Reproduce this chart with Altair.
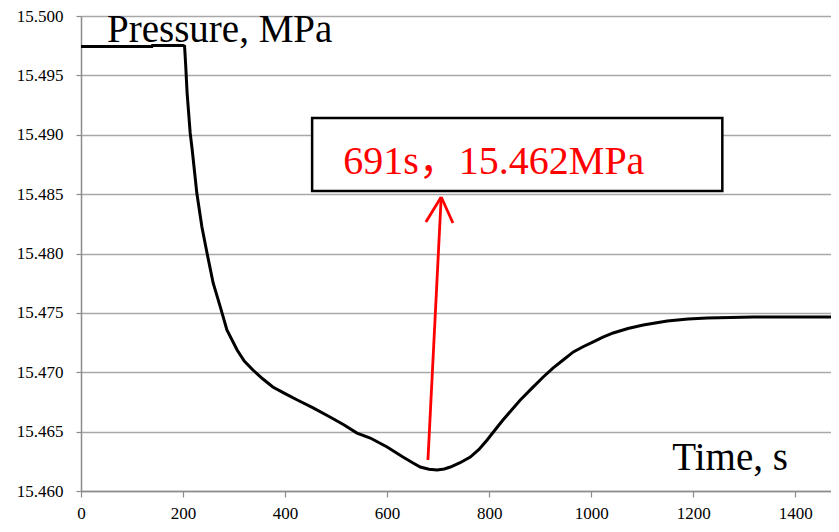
import altair as alt
import pandas as pd

# Pressure curve (time in s, pressure in MPa)
time_s = [0, 139, 140, 200, 203, 205, 208, 214, 218, 227, 237, 247, 259, 273, 286,
          306, 320, 337, 356, 376, 400, 424, 455, 488, 515, 541, 567, 600, 631, 650,
          665, 682, 698, 712, 724, 743, 763, 780, 796, 811, 827, 844, 861, 884, 906,
          925, 945, 965, 984, 1004, 1023, 1043, 1072, 1102, 1149, 1190, 1227, 1318,
          1484]
pressure = [15.49744, 15.49744, 15.49752, 15.49752, 15.49745, 15.49600, 15.49350,
            15.49015, 15.48872, 15.48509, 15.48223, 15.48004, 15.47752, 15.47550,
            15.47356, 15.47187, 15.47095, 15.47019, 15.46945, 15.46876, 15.46820,
            15.46766, 15.46700, 15.46623, 15.46558, 15.46488, 15.46446, 15.46371,
            15.46286, 15.46238, 15.46202, 15.46183, 15.46177, 15.46185, 15.46202,
            15.46238, 15.46286, 15.46350, 15.46430, 15.46512, 15.46598, 15.46682,
            15.46766, 15.46866, 15.46960, 15.47035, 15.47103, 15.47171, 15.47215,
            15.47255, 15.47295, 15.47331, 15.47368, 15.47398, 15.47432, 15.47448,
            15.47457, 15.47465, 15.47465]

x_ticks = [0, 200, 400, 600, 800, 1000, 1200, 1400]
y_ticks = [15.460, 15.465, 15.470, 15.475, 15.480, 15.485, 15.490, 15.495, 15.500]
x_domain = [0, 1470]
y_domain = [15.460, 15.500]

# annotation box and arrow (data units)
box_x = [453]
box_x2 = [1257]
box_y = [15.49141]
box_y2 = [15.48526]
arrow_x = [680, 706, 706]
arrow_y = [15.46261, 15.48476, 15.48476]
arrow_x2 = [706, 676, 729]
arrow_y2 = [15.48476, 15.48265, 15.48257]

label_texts = ["Pressure, MPa", "Time, s"]
label_x = [51, 1159]
label_y = [15.49781, 15.46177]
annot_text = ["691s，15.462MPa"]
annot_x = [514]
annot_y = [15.48669]

FONT = "'Liberation Serif', 'Times New Roman', 'Noto Sans CJK SC', serif"

df = pd.DataFrame({"t": time_s, "p": pressure})
box_df = pd.DataFrame({"x": box_x, "x2": box_x2, "y": box_y, "y2": box_y2})
arrow_df = pd.DataFrame({"x": arrow_x, "y": arrow_y, "x2": arrow_x2, "y2": arrow_y2})
lab_df = pd.DataFrame({"text": label_texts, "x": label_x, "y": label_y})
ann_df = pd.DataFrame({"text": annot_text, "x": annot_x, "y": annot_y})

xs = alt.Scale(domain=x_domain, nice=False, zero=False)
ys = alt.Scale(domain=y_domain, nice=False, zero=False)

x_axis = alt.Axis(values=x_ticks, title=None, grid=False, format="d",
                  labelFont=FONT, labelFontSize=17, labelColor="#000000",
                  tickColor="#8c8c8c", domainColor="#8c8c8c", domainWidth=1.5,
                  tickWidth=1.2, tickSize=6, labelPadding=8, labelFlush=False)
y_axis = alt.Axis(values=y_ticks, title=None, format=".3f", grid=True,
                  gridColor="#a8a8a8", gridWidth=1.4, labelFont=FONT,
                  labelFontSize=17, labelColor="#000000", tickColor="#8c8c8c",
                  domainColor="#8c8c8c", domainWidth=1.5, tickWidth=1.2, tickSize=5,
                  labelPadding=13)

line = alt.Chart(df).mark_line(color="#000000", strokeWidth=3).encode(
    x=alt.X("t:Q", scale=xs, axis=x_axis),
    y=alt.Y("p:Q", scale=ys, axis=y_axis),
)

box = alt.Chart(box_df).mark_rect(fill="#ffffff", stroke="#000000", strokeWidth=2.5).encode(
    x=alt.X("x:Q", scale=xs), x2="x2:Q",
    y=alt.Y("y:Q", scale=ys), y2="y2:Q",
)

arrow = alt.Chart(arrow_df).mark_rule(color="#ff0000", strokeWidth=2.8).encode(
    x=alt.X("x:Q", scale=xs), x2="x2:Q",
    y=alt.Y("y:Q", scale=ys), y2="y2:Q",
)

labels = alt.Chart(lab_df).mark_text(align="left", baseline="alphabetic", font=FONT,
                                     fontSize=39, color="#000000").encode(
    x=alt.X("x:Q", scale=xs), y=alt.Y("y:Q", scale=ys), text="text:N",
)

annot = alt.Chart(ann_df).mark_text(align="left", baseline="alphabetic", font=FONT,
                                    fontSize=40, color="#ff0000").encode(
    x=alt.X("x:Q", scale=xs), y=alt.Y("y:Q", scale=ys), text="text:N",
)

chart = alt.layer(box, line, arrow, labels, annot).properties(
    width=750, height=475,
    padding={"left": 73, "top": 8, "right": 0, "bottom": 33},
    autosize=alt.AutoSizeParams(type="none"),
    background="#ffffff",
).configure_view(stroke=None).configure_axis(labelFont=FONT)

chart.save("out.html", embed_options={"renderer": "svg", "actions": False})
